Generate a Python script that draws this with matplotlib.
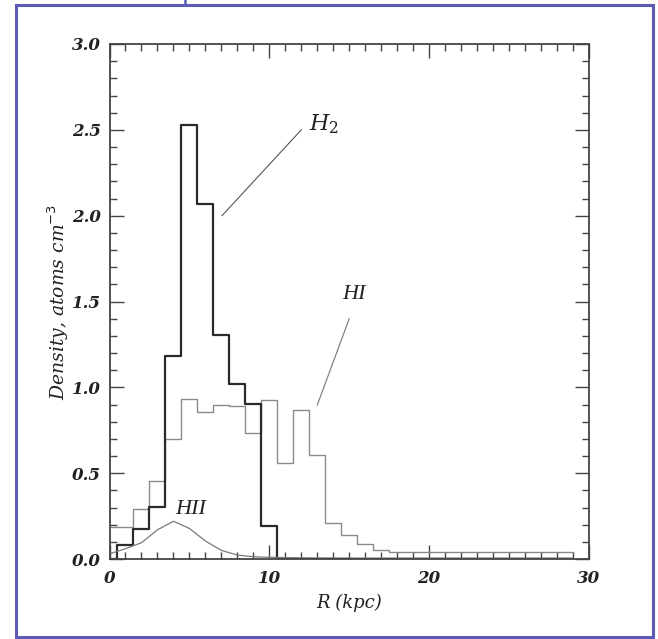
import matplotlib
matplotlib.use("Agg")
import matplotlib.pyplot as plt
from matplotlib.ticker import MultipleLocator
from matplotlib.patches import Rectangle
from matplotlib.lines import Line2D

# Data (radius in kpc, density atoms cm^-3)
R = list(range(0, 30))
h2 = [0.0, 0.08, 0.175, 0.305, 1.18, 2.53, 2.07, 1.305, 1.02, 0.905, 0.195,
      0, 0, 0, 0, 0, 0, 0, 0, 0, 0, 0, 0, 0, 0, 0, 0, 0, 0, 0]
hi = [0.185, 0.185, 0.29, 0.454, 0.70, 0.934, 0.854, 0.899, 0.889, 0.736,
      0.926, 0.561, 0.868, 0.606, 0.208, 0.138, 0.086, 0.054, 0.04, 0.04,
      0.04, 0.04, 0.04, 0.04, 0.04, 0.04, 0.04, 0.04, 0.04, 0.04]
hii = [0.03, 0.06, 0.095, 0.17, 0.22, 0.178, 0.105, 0.05, 0.023, 0.013,
       0.01, 0.008, 0.007, 0.006, 0.006, 0.005, 0.005, 0.005, 0.005, 0.005,
       0.005, 0.005, 0.005, 0.005, 0.005, 0.005, 0.005, 0.005, 0.005, 0.005]
xticks = [0, 10, 20, 30]
yticks = [0, 0.5, 1.0, 1.5, 2.0, 2.5, 3.0]

serif = ["DejaVu Serif"]
times = ["Liberation Serif", "DejaVu Serif"]
fig = plt.figure(figsize=(6.58, 6.39), dpi=100)
W, H = 658, 639
ax = fig.add_axes([109.5 / W, 1 - 559 / H, (589 - 109.5) / W, 515 / H])

ax.step(R, hi, where="mid", color="#8a8a8a", lw=1.0)
ax.step(R, h2, where="mid", color="#2a2a2a", lw=1.6)
ax.plot(R, hii, color="#7a7a7a", lw=0.9)

ax.set_xlim(0, 30)
ax.set_ylim(0, 3.0)
ax.xaxis.set_minor_locator(MultipleLocator(1))
ax.yaxis.set_minor_locator(MultipleLocator(0.1))
ax.tick_params(which="both", direction="in", top=True, right=True,
               color="#444444", width=1.0)
ax.tick_params(which="major", length=10)
ax.tick_params(which="minor", length=5)
ax.tick_params(axis="x", pad=8)
ax.tick_params(axis="y", pad=6)
for s in ax.spines.values():
    s.set_linewidth(1.3)
    s.set_color("#444444")

ax.set_xticks(xticks)
ax.set_xticklabels([str(v) for v in xticks])
ax.set_yticks(yticks)
ax.set_yticklabels([f"{v:.1f}" for v in yticks])
for lab in ax.get_xticklabels() + ax.get_yticklabels():
    lab.set_family(serif)
    lab.set_style("italic")
    lab.set_fontweight("bold")
    lab.set_fontsize(12)
    lab.set_color("#222222")

ax.set_xlabel("R (kpc)", family=serif, style="italic", fontsize=13,
              color="#222222", labelpad=5)
ax.set_ylabel(r"Density, atoms cm$^{-3}$", family=serif, style="italic",
              fontsize=13.5, color="#222222", labelpad=1)

# annotations
ax.plot([7.04, 12.0], [2.0, 2.50], color="#555555", lw=0.8)
ax.text(13.4, 2.53, r"$H_{\mathit{2}}$", fontsize=16, ha="center", va="center",
        color="#222222", math_fontfamily="dejavuserif")
ax.plot([13.0, 15.0], [0.897, 1.40], color="#777777", lw=0.8)
ax.text(15.3, 1.54, "HI", fontsize=16, ha="center", va="center",
        family=times, style="italic", color="#222222")
ax.text(5.1, 0.29, "HII", fontsize=16, ha="center", va="center",
        family=times, style="italic", color="#222222")

# blue border frame
fig.patches.append(Rectangle((16 / W, 1 - 637 / H), (653 - 16) / W, (637 - 5) / H,
                             transform=fig.transFigure, fill=False,
                             edgecolor="#5c5cb8", lw=2.2))
fig.lines.append(Line2D([185 / W, 185 / W], [1 - 5 / H, 1.0],
                        transform=fig.transFigure, color="#5c5cb8", lw=1.8))

fig.savefig("out.png", dpi=100)
